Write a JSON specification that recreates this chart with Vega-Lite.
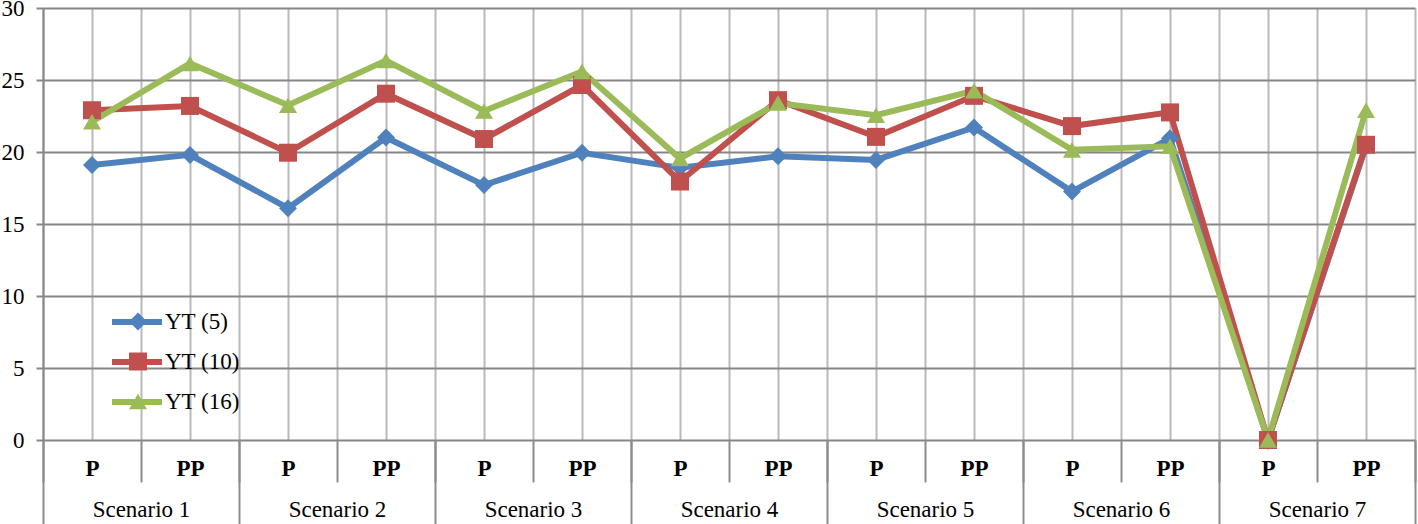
{
  "$schema": "https://vega.github.io/schema/vega-lite/v6.json",
  "width": 1372,
  "height": 432,
  "autosize": {"type": "none"},
  "padding": {"left": 43, "top": 8, "right": 3, "bottom": 84},
  "background": "white",
  "config": {"view": {"stroke": null}, "font": "Liberation Serif"},
  "data": {"values": [
    {"idx": 0, "scenario": "Scenario 1", "type": "P", "series": "YT (5)", "value": 19.1},
    {"idx": 1, "scenario": "Scenario 1", "type": "PP", "series": "YT (5)", "value": 19.8},
    {"idx": 2, "scenario": "Scenario 2", "type": "P", "series": "YT (5)", "value": 16.1},
    {"idx": 3, "scenario": "Scenario 2", "type": "PP", "series": "YT (5)", "value": 21.0},
    {"idx": 4, "scenario": "Scenario 3", "type": "P", "series": "YT (5)", "value": 17.7},
    {"idx": 5, "scenario": "Scenario 3", "type": "PP", "series": "YT (5)", "value": 19.95},
    {"idx": 6, "scenario": "Scenario 4", "type": "P", "series": "YT (5)", "value": 18.9},
    {"idx": 7, "scenario": "Scenario 4", "type": "PP", "series": "YT (5)", "value": 19.7},
    {"idx": 8, "scenario": "Scenario 5", "type": "P", "series": "YT (5)", "value": 19.45},
    {"idx": 9, "scenario": "Scenario 5", "type": "PP", "series": "YT (5)", "value": 21.7},
    {"idx": 10, "scenario": "Scenario 6", "type": "P", "series": "YT (5)", "value": 17.25},
    {"idx": 11, "scenario": "Scenario 6", "type": "PP", "series": "YT (5)", "value": 20.95},
    {"idx": 12, "scenario": "Scenario 7", "type": "P", "series": "YT (5)", "value": 0},
    {"idx": 13, "scenario": "Scenario 7", "type": "PP", "series": "YT (5)", "value": 20.4},
    {"idx": 0, "scenario": "Scenario 1", "type": "P", "series": "YT (10)", "value": 22.9},
    {"idx": 1, "scenario": "Scenario 1", "type": "PP", "series": "YT (10)", "value": 23.2},
    {"idx": 2, "scenario": "Scenario 2", "type": "P", "series": "YT (10)", "value": 19.95},
    {"idx": 3, "scenario": "Scenario 2", "type": "PP", "series": "YT (10)", "value": 24.05},
    {"idx": 4, "scenario": "Scenario 3", "type": "P", "series": "YT (10)", "value": 20.9},
    {"idx": 5, "scenario": "Scenario 3", "type": "PP", "series": "YT (10)", "value": 24.65},
    {"idx": 6, "scenario": "Scenario 4", "type": "P", "series": "YT (10)", "value": 17.95},
    {"idx": 7, "scenario": "Scenario 4", "type": "PP", "series": "YT (10)", "value": 23.6},
    {"idx": 8, "scenario": "Scenario 5", "type": "P", "series": "YT (10)", "value": 21.05},
    {"idx": 9, "scenario": "Scenario 5", "type": "PP", "series": "YT (10)", "value": 23.9},
    {"idx": 10, "scenario": "Scenario 6", "type": "P", "series": "YT (10)", "value": 21.8},
    {"idx": 11, "scenario": "Scenario 6", "type": "PP", "series": "YT (10)", "value": 22.75},
    {"idx": 12, "scenario": "Scenario 7", "type": "P", "series": "YT (10)", "value": 0},
    {"idx": 13, "scenario": "Scenario 7", "type": "PP", "series": "YT (10)", "value": 20.5},
    {"idx": 0, "scenario": "Scenario 1", "type": "P", "series": "YT (16)", "value": 22.1},
    {"idx": 1, "scenario": "Scenario 1", "type": "PP", "series": "YT (16)", "value": 26.15},
    {"idx": 2, "scenario": "Scenario 2", "type": "P", "series": "YT (16)", "value": 23.25},
    {"idx": 3, "scenario": "Scenario 2", "type": "PP", "series": "YT (16)", "value": 26.35},
    {"idx": 4, "scenario": "Scenario 3", "type": "P", "series": "YT (16)", "value": 22.85},
    {"idx": 5, "scenario": "Scenario 3", "type": "PP", "series": "YT (16)", "value": 25.6},
    {"idx": 6, "scenario": "Scenario 4", "type": "P", "series": "YT (16)", "value": 19.55},
    {"idx": 7, "scenario": "Scenario 4", "type": "PP", "series": "YT (16)", "value": 23.4},
    {"idx": 8, "scenario": "Scenario 5", "type": "P", "series": "YT (16)", "value": 22.55},
    {"idx": 9, "scenario": "Scenario 5", "type": "PP", "series": "YT (16)", "value": 24.25},
    {"idx": 10, "scenario": "Scenario 6", "type": "P", "series": "YT (16)", "value": 20.15},
    {"idx": 11, "scenario": "Scenario 6", "type": "PP", "series": "YT (16)", "value": 20.4},
    {"idx": 12, "scenario": "Scenario 7", "type": "P", "series": "YT (16)", "value": 0},
    {"idx": 13, "scenario": "Scenario 7", "type": "PP", "series": "YT (16)", "value": 22.9}
  ]},
  "layer": [
    {
      "mark": {"type": "line", "strokeWidth": 6},
      "encoding": {
        "x": {
          "field": "idx", "type": "quantitative",
          "scale": {"domain": [-0.5, 13.5], "nice": false, "zero": false},
          "axis": {
            "title": null,
            "values": [-0.5, 0, 0.5, 1, 1.5, 2, 2.5, 3, 3.5, 4, 4.5, 5, 5.5, 6, 6.5, 7, 7.5, 8, 8.5, 9, 9.5, 10, 10.5, 11, 11.5, 12, 12.5, 13, 13.5],
            "grid": true, "gridColor": "#b9b9b9", "gridWidth": 2,
            "domain": false,
            "ticks": true, "tickSize": 42, "tickColor": "#8c8c8c", "tickWidth": 2,
            "tickOpacity": {"condition": {"test": "datum.value % 1 != 0", "value": 1}, "value": 0},
            "labelExpr": "datum.value % 1 == 0 ? (datum.value % 2 == 0 ? 'P' : 'PP') : ''",
            "labelFont": "Liberation Serif", "labelFontSize": 23, "labelFontWeight": "bold", "labelColor": "black",
            "labelBaseline": "alphabetic", "labelPadding": -7,
            "labelOverlap": false, "labelFlush": false, "labelBound": false
          }
        },
        "y": {
          "field": "value", "type": "quantitative",
          "scale": {"domain": [0, 30], "nice": false},
          "axis": {
            "title": null,
            "values": [0, 5, 10, 15, 20, 25, 30],
            "grid": true, "gridColor": "#868686", "gridWidth": 2,
            "domain": true, "domainColor": "#868686", "domainWidth": 2,
            "tickSize": 7, "tickColor": "#868686", "tickWidth": 2,
            "labelFont": "Liberation Serif", "labelFontSize": 23, "labelColor": "black",
            "labelPadding": 12, "labelBaseline": "middle"
          }
        },
        "color": {
          "field": "series", "type": "nominal",
          "sort": ["YT (5)", "YT (10)", "YT (16)"],
          "scale": {"range": ["#4F81BD", "#C0504D", "#9BBB59"]},
          "legend": {
            "title": null, "orient": "none", "legendX": 66, "legendY": 286,
            "symbolType": "stroke", "symbolSize": 2500, "symbolStrokeWidth": 6,
            "labelFont": "Liberation Serif", "labelFontSize": 23, "labelColor": "black",
            "labelOffset": 0, "rowPadding": -2.5, "padding": 0
          }
        }
      }
    },
    {
      "mark": {"type": "point", "filled": true, "size": 324, "opacity": 1, "strokeWidth": 0},
      "encoding": {
        "x": {"field": "idx", "type": "quantitative", "scale": {"domain": [-0.5, 13.5], "nice": false, "zero": false}, "axis": null},
        "y": {"field": "value", "type": "quantitative"},
        "fill": {
          "field": "series", "type": "nominal",
          "scale": {"domain": ["YT (5)", "YT (10)", "YT (16)"], "range": ["#4F81BD", "#C0504D", "#9BBB59"]},
          "legend": {
            "title": null, "orient": "none", "legendX": 83.5, "legendY": 302,
            "symbolSize": 324, "symbolStrokeWidth": 0,
            "labelFontSize": 23, "labelOpacity": 0,
            "rowPadding": 16, "padding": 0
          }
        },
        "shape": {
          "field": "series", "type": "nominal",
          "scale": {"domain": ["YT (5)", "YT (10)", "YT (16)"], "range": ["diamond", "square", "triangle-up"]},
          "legend": {
            "title": null, "orient": "none", "legendX": 83.5, "legendY": 302,
            "symbolSize": 324, "symbolStrokeWidth": 0,
            "labelFontSize": 23, "labelOpacity": 0,
            "rowPadding": 16, "padding": 0
          }
        }
      }
    },
    {
      "mark": {"type": "point", "opacity": 0},
      "encoding": {
        "x": {
          "field": "idx", "type": "quantitative",
          "scale": {"domain": [-0.5, 13.5], "nice": false, "zero": false},
          "axis": {
            "title": null, "orient": "bottom",
            "values": [-0.5, 0.5, 1.5, 2.5, 3.5, 4.5, 5.5, 6.5, 7.5, 8.5, 9.5, 10.5, 11.5, 12.5, 13.5],
            "grid": false, "domain": false,
            "ticks": true, "tickSize": 84, "tickColor": "#8c8c8c", "tickWidth": 2,
            "tickOpacity": {"condition": {"test": "(datum.value + 0.5) % 2 == 0", "value": 1}, "value": 0},
            "labelExpr": "(datum.value + 0.5) % 2 == 1 ? 'Scenario ' + ((datum.value + 1.5) / 2) : ''",
            "labelFont": "Liberation Serif", "labelFontSize": 23, "labelColor": "black",
            "labelBaseline": "alphabetic", "labelPadding": -8,
            "labelOverlap": false, "labelFlush": false, "labelBound": false
          }
        },
        "y": {"field": "value", "type": "quantitative"}
      }
    }
  ],
  "resolve": {"axis": {"x": "independent"}}
}
